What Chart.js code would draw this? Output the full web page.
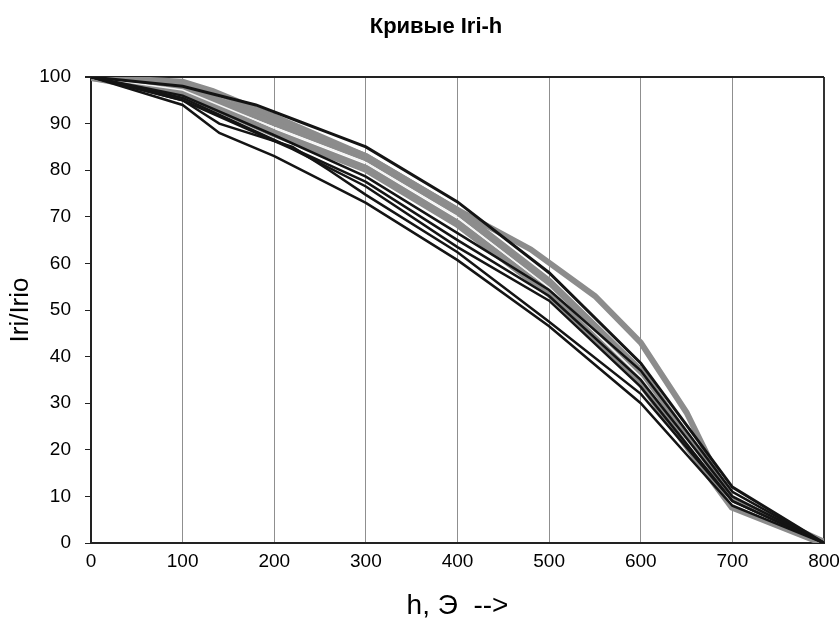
<!DOCTYPE html>
<html>
<head>
<meta charset="utf-8">
<script src="https://cdn.jsdelivr.net/npm/chart.js@4"></script>
<style>
  html, body { margin: 0; padding: 0; background: #fff; }
  #wrap { width: 839px; height: 624px; }
</style>
</head>
<body>
<div id="wrap"><canvas id="chart" width="839" height="624"></canvas></div>
<script>
const chartTitle = 'Кривые Iri-h';
const xTicks = [0, 100, 200, 300, 400, 500, 600, 700, 800];
const yTicks = [0, 10, 20, 30, 40, 50, 60, 70, 80, 90, 100];

// gray thick curves
const grayTopH = [0, 100, 133, 200, 300, 400, 480, 550, 600, 650, 700, 800];
const grayTopV = [100, 99, 97, 91.5, 83, 71.5, 63, 53, 43, 28, 8, 0];
const grayUpH = [0, 100, 200, 300, 400, 500, 600, 700, 800];
const grayUpV = [100, 97.8, 90.3, 82.8, 71.2, 56, 36.8, 9, 0];
const grayLowH = [0, 100, 200, 300, 400, 500, 600, 700, 800];
const grayLowV = [100, 96.6, 87.9, 80.3, 68.5, 53.6, 34.4, 7.8, 0];
const whiteH = [0, 100, 200, 300, 400, 500, 600, 700, 800];
const whiteV = [100, 97.2, 89.1, 81.6, 69.9, 54.8, 35.6, 8.5, 0];

// black curves
const black1H = [0, 100, 180, 228, 260, 300, 400, 500, 600, 700, 800];
const black1V = [100, 98, 94, 90.4, 88, 85, 73.2, 58, 38.6, 12, 0];
const black2H = [0, 100, 200, 300, 400, 500, 600, 700, 800];
const black2V = [100, 96, 87.5, 78.6, 66.5, 54.3, 37, 11, 0];
const black3H = [0, 100, 200, 300, 400, 500, 600, 700, 800];
const black3V = [100, 95.5, 86.5, 77.5, 65, 53, 35, 10, 0];
const black4H = [0, 100, 220, 300, 400, 500, 600, 700, 800];
const black4V = [100, 95, 84.5, 76.5, 63.5, 52, 33.5, 9, 0];
const black5H = [0, 100, 140, 220, 260, 300, 400, 500, 600, 700, 800];
const black5V = [100, 95, 90, 85, 80, 74.7, 62.4, 47.5, 32, 9, 0];
const black6H = [0, 100, 140, 200, 260, 300, 400, 500, 600, 700, 800];
const black6V = [100, 94, 88, 83, 77, 73, 60.7, 46.5, 30, 8, 0];

const pts = (h, v) => h.map((x, i) => ({ x: x, y: v[i] }));

// lower "order" is drawn on top
const curve = (h, v, color, width, order) => ({
    data: pts(h, v),
    borderColor: color,
    borderWidth: width,
    pointRadius: 0,
    fill: false,
    tension: 0,
    order: order
});

const datasets = [
    curve(grayUpH, grayUpV, '#8c8c8c', 8, 4),
    curve(grayLowH, grayLowV, '#8c8c8c', 8, 4),
    curve(grayTopH, grayTopV, '#8c8c8c', 6, 3),
    curve(whiteH, whiteV, '#f4f4f4', 1.5, 2),
    curve(black1H, black1V, '#141414', 3, 1),
    curve(black2H, black2V, '#141414', 2.5, 1),
    curve(black3H, black3V, '#141414', 2.5, 1),
    curve(black4H, black4V, '#141414', 2.5, 1),
    curve(black5H, black5V, '#141414', 2.5, 1),
    curve(black6H, black6V, '#141414', 2.5, 1)
];

// title sits a bit right of the canvas centre, like in the original
const titlePlugin = {
    id: 'offsetTitle',
    afterDraw(chart) {
        const ctx = chart.ctx;
        ctx.save();
        ctx.font = 'bold 22px "Liberation Sans", Arial';
        ctx.fillStyle = '#000';
        ctx.textAlign = 'center';
        ctx.textBaseline = 'middle';
        ctx.fillText(chartTitle, 436, 27);
        ctx.restore();
    }
};

new Chart(document.getElementById('chart').getContext('2d'), {
    type: 'line',
    data: { datasets: datasets },
    plugins: [titlePlugin],
    options: {
        responsive: false,
        animation: false,
        layout: { padding: { top: 77, right: 15, left: 0, bottom: 0 } },
        plugins: {
            legend: { display: false },
            tooltip: { enabled: false },
            title: { display: false }
        },
        scales: {
            x: {
                type: 'linear',
                min: 0,
                max: 800,
                afterBuildTicks: axis => { axis.ticks = xTicks.map(v => ({ value: v })); },
                afterFit: s => { s.height = 81; s.paddingRight = 0; },
                grid: {
                    color: ctx => ctx.tick && ctx.tick.value === 800 ? '#333' : '#8f8f8f',
                    lineWidth: ctx => ctx.tick && ctx.tick.value === 800 ? 2 : 1,
                    drawTicks: false
                },
                border: { color: '#222', width: 2 },
                ticks: {
                    color: '#000',
                    padding: 7,
                    maxRotation: 0,
                    font: { family: 'Liberation Sans, Arial', size: 19 }
                },
                title: {
                    display: true,
                    text: 'h, Э  -->',
                    color: '#000',
                    font: { family: 'Liberation Sans, Arial', size: 28 },
                    padding: { top: 0, bottom: 1 }
                }
            },
            y: {
                min: 0,
                max: 100,
                afterBuildTicks: axis => { axis.ticks = yTicks.map(v => ({ value: v })); },
                afterFit: s => { s.width = 91; },
                grid: {
                    color: ctx => ctx.tick && ctx.tick.value === 100 ? '#222' : 'rgba(0,0,0,0)',
                    lineWidth: ctx => ctx.tick && ctx.tick.value === 100 ? 2 : 1,
                    tickColor: '#222',
                    tickLength: 6
                },
                border: { color: '#222', width: 2 },
                ticks: {
                    color: '#000',
                    padding: 14,
                    font: { family: 'Liberation Sans, Arial', size: 19 }
                },
                title: {
                    display: true,
                    text: 'Iri/Irio',
                    color: '#000',
                    font: { family: 'Liberation Sans, Arial', size: 26 },
                    padding: { top: 5, bottom: 0 }
                }
            }
        }
    }
});
</script>
</body>
</html>
